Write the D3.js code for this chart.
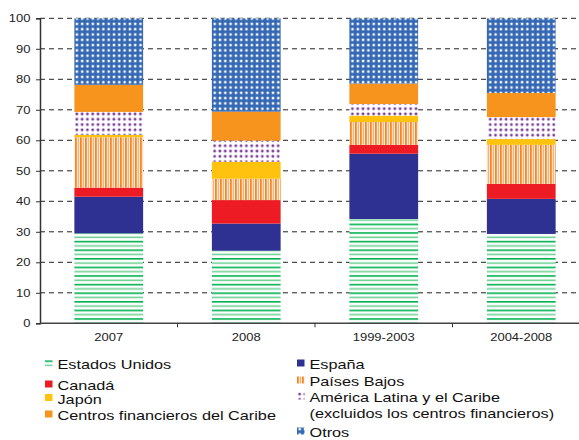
<!DOCTYPE html>
<html>
<head>
<meta charset="utf-8">
<script src="https://cdn.jsdelivr.net/npm/d3@7"></script>
<style>
  body { margin: 0; background: #fff; }
  svg { font-family: "Liberation Sans", Arial, sans-serif; }
</style>
</head>
<body>
<svg id="chart" width="579" height="440"></svg>
<script>
const periods = ["2007", "2008", "1999-2003", "2004-2008"];
const series = [
  "Estados Unidos", "España", "Canadá", "Países Bajos", "Japón",
  "América Latina y el Caribe", "Centros financieros del Caribe", "Otros"
];
const estadosUnidos = [29.5, 23.8, 34.2, 29.3];
const espana = [12.0, 8.9, 21.4, 11.5];
const canada = [3.0, 7.7, 2.9, 4.9];
const paisesBajos = [16.5, 7.0, 7.5, 12.8];
const japon = [0.8, 5.6, 2.1, 1.9];
const americaLatina = [7.5, 6.9, 3.8, 7.2];
const centrosCaribe = [8.9, 9.5, 6.7, 7.9];
const otros = [21.8, 30.6, 21.4, 24.5];
const yTicks = d3.range(0, 101, 10);

const values = [estadosUnidos, espana, canada, paisesBajos, japon, americaLatina, centrosCaribe, otros];
const table = periods.map((p, i) => {
  const row = { period: p };
  series.forEach((s, j) => row[s] = values[j][i]);
  return row;
});

const svg = d3.select("#chart");
const plotLeft = 40, plotRight = 590, plotTop = 18.3, plotBottom = 323.3;
// the source type is drawn wide, so text gets a horizontal stretch
const tickStretch = 1.3, legendStretch = 1.25;

const x = d3.scaleBand().domain(periods).range([plotLeft, plotRight]).paddingInner(0.5).paddingOuter(0.25);
const y = d3.scaleLinear().domain([0, 100]).range([plotBottom, plotTop]);

// patterns
const defs = svg.append("defs");
const pGreen = defs.append("pattern").attr("id", "p-eu").attr("patternUnits", "userSpaceOnUse")
  .attr("width", 8).attr("height", 8.6);
pGreen.append("rect").attr("width", 8).attr("height", 8.6).attr("fill", "#fff");
pGreen.append("rect").attr("y", 0).attr("width", 8).attr("height", 1.6).attr("fill", "#00b050");
pGreen.append("rect").attr("y", 4.3).attr("width", 8).attr("height", 1.6).attr("fill", "#6fd196");

const pOrange = defs.append("pattern").attr("id", "p-pb").attr("patternUnits", "userSpaceOnUse")
  .attr("width", 5).attr("height", 8);
pOrange.append("rect").attr("width", 5).attr("height", 8).attr("fill", "#fff");
pOrange.append("rect").attr("x", 0).attr("width", 1.8).attr("height", 8).attr("fill", "#f7861d");
pOrange.append("rect").attr("x", 2.6).attr("width", 1.6).attr("height", 8).attr("fill", "#fbb07a");

const pPurple = defs.append("pattern").attr("id", "p-al").attr("patternUnits", "userSpaceOnUse")
  .attr("width", 5.3).attr("height", 5.3);
pPurple.append("rect").attr("width", 5.3).attr("height", 5.3).attr("fill", "#fff");
pPurple.append("rect").attr("x", 1.3).attr("y", 1.3).attr("width", 2.6).attr("height", 2.6)
  .attr("rx", 0.8).attr("fill", "#7a3d9c");

const pBlue = defs.append("pattern").attr("id", "p-ot").attr("patternUnits", "userSpaceOnUse")
  .attr("width", 5.3).attr("height", 5.3);
pBlue.append("rect").attr("width", 5.3).attr("height", 5.3).attr("fill", "#3468b4");
pBlue.append("rect").attr("x", 1.5).attr("y", 1.5).attr("width", 2.4).attr("height", 2.4).attr("fill", "#fff");

const fills = {
  "Estados Unidos": "url(#p-eu)",
  "España": "#2e3192",
  "Canadá": "#ed1c24",
  "Países Bajos": "url(#p-pb)",
  "Japón": "#ffc20e",
  "América Latina y el Caribe": "url(#p-al)",
  "Centros financieros del Caribe": "#f7941d",
  "Otros": "url(#p-ot)"
};

// gridlines
svg.append("g")
  .selectAll("line")
  .data(yTicks.filter(d => d > 0))
  .join("line")
  .attr("x1", plotLeft).attr("x2", 579)
  .attr("y1", d => y(d)).attr("y2", d => y(d))
  .attr("stroke", "#222").attr("stroke-width", 1)
  .attr("stroke-dasharray", "5,4");

// bars
const stack = d3.stack().keys(series)(table);
svg.append("g")
  .selectAll("g")
  .data(stack)
  .join("g")
  .attr("fill", d => fills[d.key])
  .selectAll("rect")
  .data(d => d)
  .join("rect")
  .attr("x", d => x(d.data.period))
  .attr("width", x.bandwidth())
  .attr("y", d => y(d[1]))
  .attr("height", d => y(d[0]) - y(d[1]));

// y axis
const yAxis = svg.append("g")
  .attr("transform", `translate(${plotLeft},0)`)
  .call(d3.axisLeft(y).tickValues(yTicks).tickSize(4));
yAxis.select(".domain").attr("stroke", "#333").attr("stroke-width", 1.5);
yAxis.selectAll(".tick line").attr("stroke", "#333");
yAxis.selectAll("text")
  .attr("x", 0)
  .attr("transform", `translate(-9.5,0) scale(${tickStretch},1)`)
  .attr("font-size", 10).attr("fill", "#222");

// x axis
const bounds = d3.range(periods.length + 1).map(i => plotLeft + i * x.step());
const xg = svg.append("g");
xg.append("line").attr("x1", plotLeft).attr("x2", 579).attr("y1", plotBottom).attr("y2", plotBottom)
  .attr("stroke", "#444").attr("stroke-width", 1.5);
xg.selectAll("line.tk")
  .data(bounds.slice(1, -1))
  .join("line").attr("class", "tk")
  .attr("x1", d => d).attr("x2", d => d)
  .attr("y1", plotBottom).attr("y2", plotBottom + 4)
  .attr("stroke", "#333");
xg.selectAll("text")
  .data(periods)
  .join("text")
  .attr("transform", d => `translate(${x(d) + x.bandwidth() / 2},341) scale(${tickStretch},1)`)
  .attr("text-anchor", "middle")
  .attr("font-size", 10)
  .attr("fill", "#222")
  .text(d => d);

// legend
const legendItems = [
  { key: "Estados Unidos", lines: ["Estados Unidos"], x: 45, y: 369 },
  { key: "Canadá", lines: ["Canadá"], x: 45, y: 390 },
  { key: "Japón", lines: ["Japón"], x: 45, y: 403.5 },
  { key: "Centros financieros del Caribe", lines: ["Centros financieros del Caribe"], x: 45, y: 420 },
  { key: "España", lines: ["España"], x: 297, y: 369 },
  { key: "Países Bajos", lines: ["Países Bajos"], x: 297, y: 386 },
  { key: "América Latina y el Caribe", lines: ["América Latina y el Caribe", "(excluidos los centros financieros)"], x: 297, y: 402 },
  { key: "Otros", lines: ["Otros"], x: 297, y: 437 }
];
const lg = svg.append("g").selectAll("g").data(legendItems).join("g")
  .attr("transform", d => `translate(${d.x},${d.y})`);
lg.append("rect")
  .attr("x", 0).attr("y", -9.5).attr("width", 7.5).attr("height", 7)
  .attr("fill", d => fills[d.key]);
lg.append("text")
  .attr("transform", `translate(12.5,0) scale(${legendStretch},1)`)
  .attr("font-size", 13).attr("fill", "#111")
  .selectAll("tspan")
  .data(d => d.lines)
  .join("tspan")
  .attr("x", 0)
  .attr("dy", (d, i) => i === 0 ? 0 : 16)
  .text(d => d);
</script>
</body>
</html>
